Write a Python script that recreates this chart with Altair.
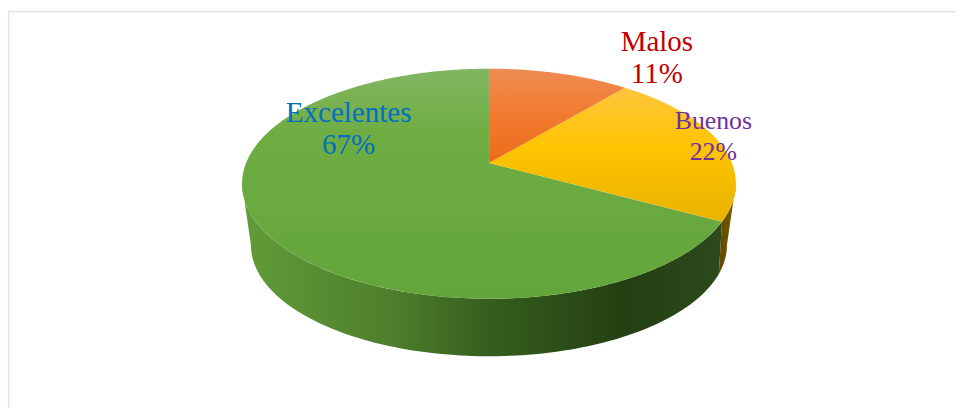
import numpy as np
import pandas as pd
import altair as alt

categories = ["Malos", "Buenos", "Excelentes"]
shares = [11, 22, 67]
label_colors = ["#c00000", "#7030a0", "#0070c0"]

# pie geometry on the page (origin of the chart)
CX, CY_TOP, RX_TOP, RY_TOP, K_TOP = 485, 175.5, 249, 116, 0.18
CY_BOT, RX_BOT, RY_BOT, K_BOT = 237.5, 240, 112, 0.255


def pt(t_deg, cy, rx, ry, k):
    t = np.radians(t_deg)
    x, y = np.sin(t), np.cos(t)
    d = 1 + k * y
    return [float(CX + rx * np.sqrt(1 - k * k) * x / d), float(cy - ry * (y + k) / d)]


def top(t):
    return pt(t, CY_TOP, RX_TOP, RY_TOP, K_TOP)


def bot(t):
    return pt(t, CY_BOT, RX_BOT, RY_BOT, K_BOT)


def feature(ring):
    ring = ring + [ring[0]]
    return {"type": "Feature", "properties": {},
            "geometry": {"type": "Polygon", "coordinates": [ring]}}


def slice_shape(a, b):
    n = max(2, int((b - a) * 2))
    vertex = [float(CX), float(CY_TOP - RY_TOP * K_TOP)]
    return feature([vertex] + [top(t) for t in np.linspace(a, b, n)])


def wall_shape(a_top, b_top, a_bot, b_bot):
    n = 120
    return feature([top(t) for t in np.linspace(a_top, b_top, n)]
                   + [bot(t) for t in np.linspace(b_bot, a_bot, n)])


def grad(stops, horizontal=False):
    return alt.Gradient(
        gradient="linear",
        x1=0, y1=0, x2=1 if horizontal else 0, y2=0 if horizontal else 1,
        stops=[alt.GradientStop(offset=o, color=c) for o, c in stops],
    )


edges = np.cumsum([0] + shares) * 3.6
a_m, a_b, a_e, a_end = edges
# widest points of the upper and lower rims
tan_top = float(np.degrees(np.arccos(-K_TOP)))
tan_bot = float(np.degrees(np.arccos(-K_BOT)))

proj = dict(type="identity", scale=1, translate=[0, 0])


def shape(feat, fill):
    return (alt.Chart(alt.Data(values=[feat]))
            .mark_geoshape(fill=fill, stroke=None, strokeWidth=0)
            .project(**proj))


top_fills = {
    "Malos": grad([(0, "#ee8c54"), (0.5, "#f27a2e"), (1, "#ec6c1c")]),
    "Buenos": grad([(0, "#fdc63c"), (0.45, "#ffc400"), (1, "#e8b300")]),
    "Excelentes": grad([(0, "#82b662"), (0.28, "#6fad43"), (1, "#63a53a")]),
}
green_wall = grad([(0, "#619c39"), (0.3, "#4f802c"), (0.52, "#355e1e"),
                   (0.8, "#243f12"), (1, "#2c4a1b")], horizontal=True)
yellow_wall = grad([(0, "#5e4700"), (1, "#7f6000")], horizontal=True)

layers = [
    shape(wall_shape(a_e, 360 - tan_top, a_e, 360 - tan_bot), green_wall),
    shape(wall_shape(tan_top, a_e, tan_bot, a_e), yellow_wall),
    shape(slice_shape(a_e, a_end), top_fills["Excelentes"]),
    shape(slice_shape(a_b, a_e), top_fills["Buenos"]),
    shape(slice_shape(a_m, a_b), top_fills["Malos"]),
]

frame = pd.DataFrame({"f": [0]})
layers.append(alt.Chart(frame).mark_rule(color="#e1e5ec", strokeWidth=1.6).encode(
    x=alt.value(0.6), y=alt.value(2), y2=alt.value(402)))
layers.append(alt.Chart(frame).mark_rule(color="#e1e5ec", strokeWidth=1.6).encode(
    x=alt.value(0), x2=alt.value(956), y=alt.value(2)))

label_pos = {"Malos": (654.3, 42, 29.2, 32), "Buenos": (711.3, 120.3, 26, 31), "Excelentes": (343.5, 113, 29.3, 33)}
for cat, share, color in zip(categories, shares, label_colors):
    x, y, size, lh = label_pos[cat]
    df = pd.DataFrame({"label": [f"{cat}\n{share}%"]})
    layers.append(
        alt.Chart(df).mark_text(
            font="Liberation Serif", fontSize=size, color=color, align="center",
            baseline="alphabetic", lineBreak="\n", lineHeight=lh,
        ).encode(x=alt.value(x), y=alt.value(y), text="label:N")
    )

chart = (
    alt.layer(*layers)
    .properties(width=956, height=402, padding=0, autosize=alt.AutoSizeParams(type="none"),
                background="white")
    .configure_view(stroke=None)
)

chart.save("out.html", embed_options={"renderer": "svg", "actions": False})
